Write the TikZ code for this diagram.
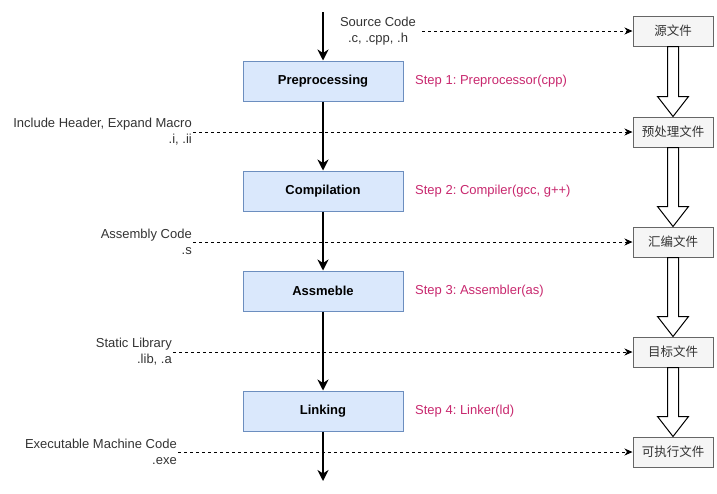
\documentclass[tikz,border=0pt]{standalone}
\usepackage{fontspec}
\setmainfont{Liberation Sans}
\newfontfamily\cjk{Noto Sans CJK SC}
\usetikzlibrary{arrows.meta,calc}
\frenchspacing
\definecolor{stepc}{RGB}{200,40,110}
\definecolor{stagefill}{HTML}{DAE8FC}
\definecolor{stagedraw}{HTML}{6C8EBF}
\definecolor{filefill}{HTML}{F5F5F5}
\definecolor{filedraw}{HTML}{666666}
\definecolor{txtgray}{HTML}{333333}
\newcommand\hollowarrow[2]{%
  \draw[hollow] ($(#1.south)+(-5.5,0)$) -- ($(#2.north)+(-5.5,-20)$) -- ($(#2.north)+(-15.5,-20)$)
    -- (#2.north) -- ($(#2.north)+(15.5,-20)$) -- ($(#2.north)+(5.5,-20)$) -- ($(#1.south)+(5.5,0)$) -- cycle;}
\begin{document}
\begin{tikzpicture}[x=1pt,y=-1pt, font=\fontsize{13}{15}\selectfont,
  stage/.style={draw=stagedraw, fill=stagefill, line width=1pt, minimum width=160pt, minimum height=40pt, inner sep=0pt, font=\fontsize{13}{15}\selectfont\bfseries},
  filebox/.style={draw=filedraw, fill=filefill, line width=1pt, minimum width=80pt, minimum height=30pt, inner sep=0pt, text=txtgray, font=\fontsize{12.5}{15}\selectfont\cjk},
  flow/.style={line width=2pt, -{Stealth[length=11pt,width=11pt,inset=3.5pt]}},
  feed/.style={dash pattern=on 3pt off 3pt, line width=1pt, -{Stealth[length=8pt,width=7pt,inset=2.5pt]}},
  steplbl/.style={text=stepc, anchor=west, inner sep=0pt},
  iolbl/.style={align=right, anchor=east, inner sep=1pt, text=txtgray, font=\fontsize{13}{16}\selectfont},
  hollow/.style={draw=black, fill=white, line width=1pt}]
\useasboundingbox (0,0) rectangle (717,493);
% stages
\node[stage] (pre) at (323,81) {Preprocessing};
\node[stage] (comp) at (323,191) {Compilation};
\node[stage] (asm) at (323,291) {Assmeble};
\node[stage] (link) at (323,411) {Linking};
\coordinate (start) at (323,12);
\coordinate (finish) at (323,481);
% step labels
\node[steplbl] (s1) at (415,81) {Step 1: Preprocessor(cpp)};
\node[steplbl] (s2) at (415,191) {Step 2: Compiler(gcc, g++)};
\node[steplbl] (s3) at (415,291) {Step 3: Assembler(as)};
\node[steplbl] (s4) at (415,411) {Step 4: Linker(ld)};
% file boxes
\node[filebox] (f1) at (673,31) {源文件};
\node[filebox] (f2) at (673,132) {预处理文件};
\node[filebox] (f3) at (673,242) {汇编文件};
\node[filebox] (f4) at (673,352) {目标文件};
\node[filebox] (f5) at (673,452) {可执行文件};
% io labels
\node[iolbl, align=center, anchor=center, inner xsep=6pt] (l1) at (378,31) {Source Code\\.c, .cpp, .h};
\node[iolbl] (l2) at (193,132) {Include Header, Expand Macro\\.i, .ii};
\node[iolbl] (l3) at (193,242) {Assembly Code\\.s};
\node[iolbl] (l4) at (173,352) {Static Library\\.lib, .a};
\node[iolbl] (l5) at (178,452) {Executable Machine Code\\.exe};
% dashed feeds
\draw[feed] (l1.east) -- (l1.east -| f1.west);
\draw[feed] (l2.east) -- (l2.east -| f2.west);
\draw[feed] (l3.east) -- (l3.east -| f3.west);
\draw[feed] (l4.east) -- (l4.east -| f4.west);
\draw[feed] (l5.east) -- (l5.east -| f5.west);
% main flow
\draw[flow] (start) -- (pre.north);
\draw[flow] (pre.south) -- (comp.north);
\draw[flow] (comp.south) -- (asm.north);
\draw[flow] (asm.south) -- (link.north);
\draw[flow] (link.south) -- (finish);
% hollow arrows
\hollowarrow{f1}{f2}
\hollowarrow{f2}{f3}
\hollowarrow{f3}{f4}
\hollowarrow{f4}{f5}
\end{tikzpicture}
\end{document}
